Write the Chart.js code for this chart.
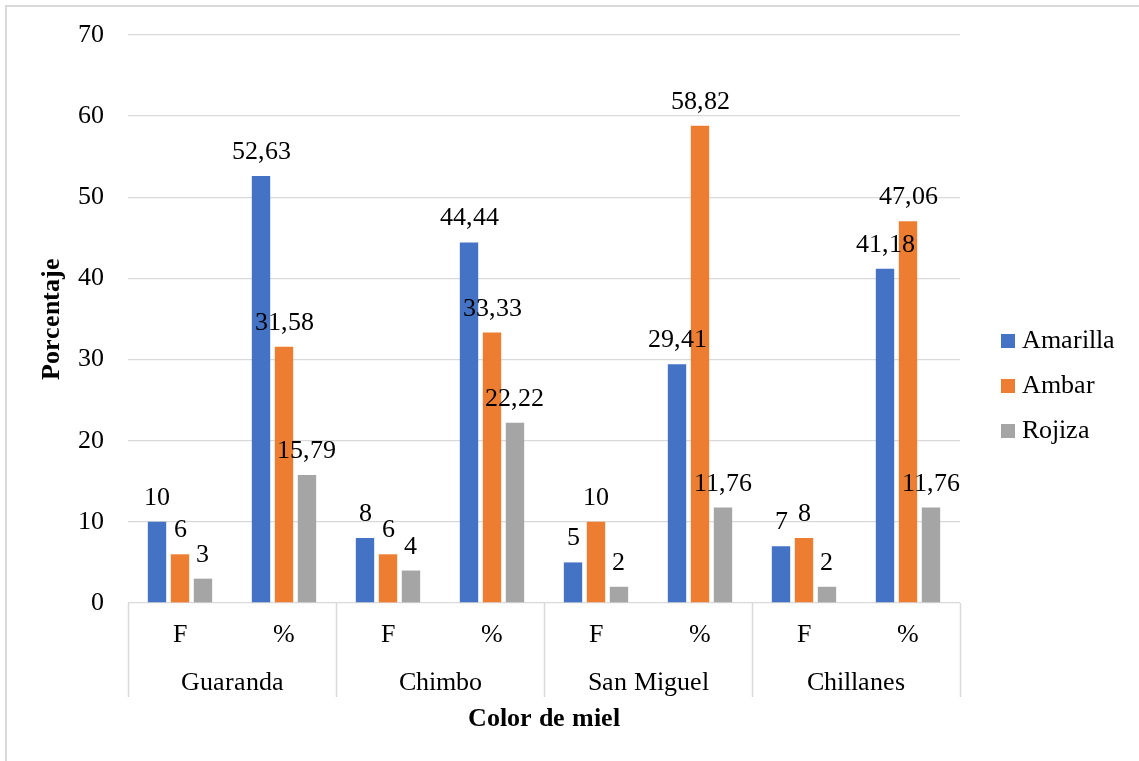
<!DOCTYPE html>
<html lang="es">
<head>
<meta charset="utf-8">
<title>Color de miel</title>
<script src="https://cdn.jsdelivr.net/npm/chart.js@4/dist/chart.umd.min.js"></script>
<style>
    @font-face {
        font-family: 'ChartSerif';
        src: local('Liberation Serif'), local('LiberationSerif'), local('Times New Roman');
        font-weight: 400;
    }
    @font-face {
        font-family: 'ChartSerif';
        src: local('Liberation Serif Bold'), local('LiberationSerif-Bold'), local('Times New Roman Bold');
        font-weight: 700;
    }
    html, body { margin: 0; padding: 0; background: #fff; }
    canvas { display: block; }
</style>
</head>
<body>
<canvas id="chart" width="1139" height="761"></canvas>
<script>
    // --- DATA ---
    const categories = ['F', '%', 'F', '%', 'F', '%', 'F', '%'];
    const towns = ['Guaranda', 'Chimbo', 'San Miguel', 'Chillanes'];
    const amarilla = [10, 52.63, 8, 44.44, 5, 29.41, 7, 41.18];
    const ambar = [6, 31.58, 6, 33.33, 10, 58.82, 8, 47.06];
    const rojiza = [3, 15.79, 4, 22.22, 2, 11.76, 2, 11.76];
    const yTicks = [0, 10, 20, 30, 40, 50, 60, 70];

    const FONT = 'ChartSerif, "Liberation Serif", "Times New Roman", serif';
    const GRID = '#d9d9d9';

    const fmt = v => String(v).replace('.', ',');

    // frame lines along the top and left edge
    const framePlugin = {
        id: 'frame',
        beforeDraw(chart) {
            const ctx = chart.ctx;
            ctx.save();
            ctx.strokeStyle = GRID;
            ctx.lineWidth = 2;
            ctx.beginPath();
            ctx.moveTo(6, chart.height);
            ctx.lineTo(6, 6);
            ctx.lineTo(chart.width, 6);
            ctx.stroke();
            ctx.restore();
        }
    };

    // value labels above each bar
    const valueLabels = {
        id: 'valueLabels',
        afterDatasetsDraw(chart) {
            const ctx = chart.ctx;
            ctx.save();
            ctx.font = '26px ' + FONT;
            ctx.fillStyle = '#000';
            ctx.textAlign = 'center';
            ctx.textBaseline = 'alphabetic';
            chart.data.datasets.forEach((ds, i) => {
                chart.getDatasetMeta(i).data.forEach((bar, j) => {
                    ctx.fillText(fmt(ds.data[j]), bar.x, bar.y - 17);
                });
            });
            ctx.restore();
        }
    };

    // second level of the category axis: town names and separators
    const townAxis = {
        id: 'townAxis',
        afterDraw(chart) {
            const ctx = chart.ctx;
            const area = chart.chartArea;
            const x = chart.scales.x;
            const groupW = (area.right - area.left) / towns.length;
            ctx.save();
            ctx.strokeStyle = GRID;
            ctx.lineWidth = 1.5;
            ctx.beginPath();
            for (let i = 0; i <= towns.length; i++) {
                const px = Math.round(area.left + i * groupW) + 0.5;
                ctx.moveTo(px, area.bottom);
                ctx.lineTo(px, area.bottom + 94);
            }
            ctx.stroke();
            ctx.font = '26px ' + FONT;
            ctx.fillStyle = '#000';
            ctx.textAlign = 'center';
            ctx.textBaseline = 'alphabetic';
            towns.forEach((t, i) => {
                const cx = (x.getPixelForValue(2 * i) + x.getPixelForValue(2 * i + 1)) / 2;
                ctx.fillText(t, cx, area.bottom + 87);
            });
            ctx.restore();
        }
    };

    // legend on the right
    const sideLegend = {
        id: 'sideLegend',
        afterDraw(chart) {
            const ctx = chart.ctx;
            const area = chart.chartArea;
            const boxX = area.right + 41;
            const firstY = (area.top + area.bottom) / 2 + 22;
            ctx.save();
            ctx.font = '26px ' + FONT;
            ctx.textBaseline = 'middle';
            ctx.textAlign = 'left';
            chart.data.datasets.forEach((ds, i) => {
                const cy = firstY + i * 45;
                ctx.fillStyle = ds.backgroundColor;
                ctx.fillRect(boxX, cy - 7, 14, 14);
                ctx.fillStyle = '#000';
                ctx.fillText(ds.label, boxX + 21, cy);
            });
            ctx.restore();
        }
    };

    const draw = () => new Chart(document.getElementById('chart'), {
        type: 'bar',
        data: {
            labels: categories,
            datasets: [
                { label: 'Amarilla', data: amarilla, backgroundColor: '#4472c4' },
                { label: 'Ambar', data: ambar, backgroundColor: '#ed7d31' },
                { label: 'Rojiza', data: rojiza, backgroundColor: '#a5a5a5' }
            ]
        },
        options: {
            responsive: false,
            animation: false,
            devicePixelRatio: 1,
            layout: { padding: { left: 0, right: 179, top: 35, bottom: 0 } },
            datasets: {
                bar: { barPercentage: 0.8, categoryPercentage: 0.663 }
            },
            plugins: {
                legend: { display: false },
                tooltip: { enabled: false }
            },
            scales: {
                x: {
                    grid: { display: false, drawTicks: false },
                    border: { display: false },
                    ticks: {
                        color: '#000',
                        font: { family: FONT, size: 26 },
                        padding: 17,
                        maxRotation: 0
                    },
                    title: {
                        display: true,
                        text: 'Color de miel',
                        color: '#000',
                        font: { family: FONT, size: 26, weight: 'bold' },
                        padding: { top: 0, bottom: 26 }
                    },
                    afterFit(scale) { scale.height = 158; }
                },
                y: {
                    min: 0,
                    max: 70,
                    afterBuildTicks(scale) {
                        scale.ticks = yTicks.map(v => ({ value: v }));
                    },
                    grid: { color: GRID, lineWidth: 1.3, drawTicks: false },
                    border: { display: false },
                    ticks: {
                        color: '#000',
                        font: { family: FONT, size: 26 },
                        padding: 24
                    },
                    title: {
                        display: true,
                        text: 'Porcentaje',
                        color: '#000',
                        font: { family: FONT, size: 26, weight: 'bold' },
                        padding: { top: 37, bottom: 0 }
                    },
                    afterFit(scale) {
                        scale.width = 128;
                        scale.paddingTop = 0;
                    }
                }
            }
        },
        plugins: [framePlugin, valueLabels, townAxis, sideLegend]
    });

    // make sure both weights are ready before the canvas is painted
    Promise.all([
        document.fonts.load('26px ChartSerif'),
        document.fonts.load('bold 26px ChartSerif')
    ]).then(draw, draw);
</script>
</body>
</html>
